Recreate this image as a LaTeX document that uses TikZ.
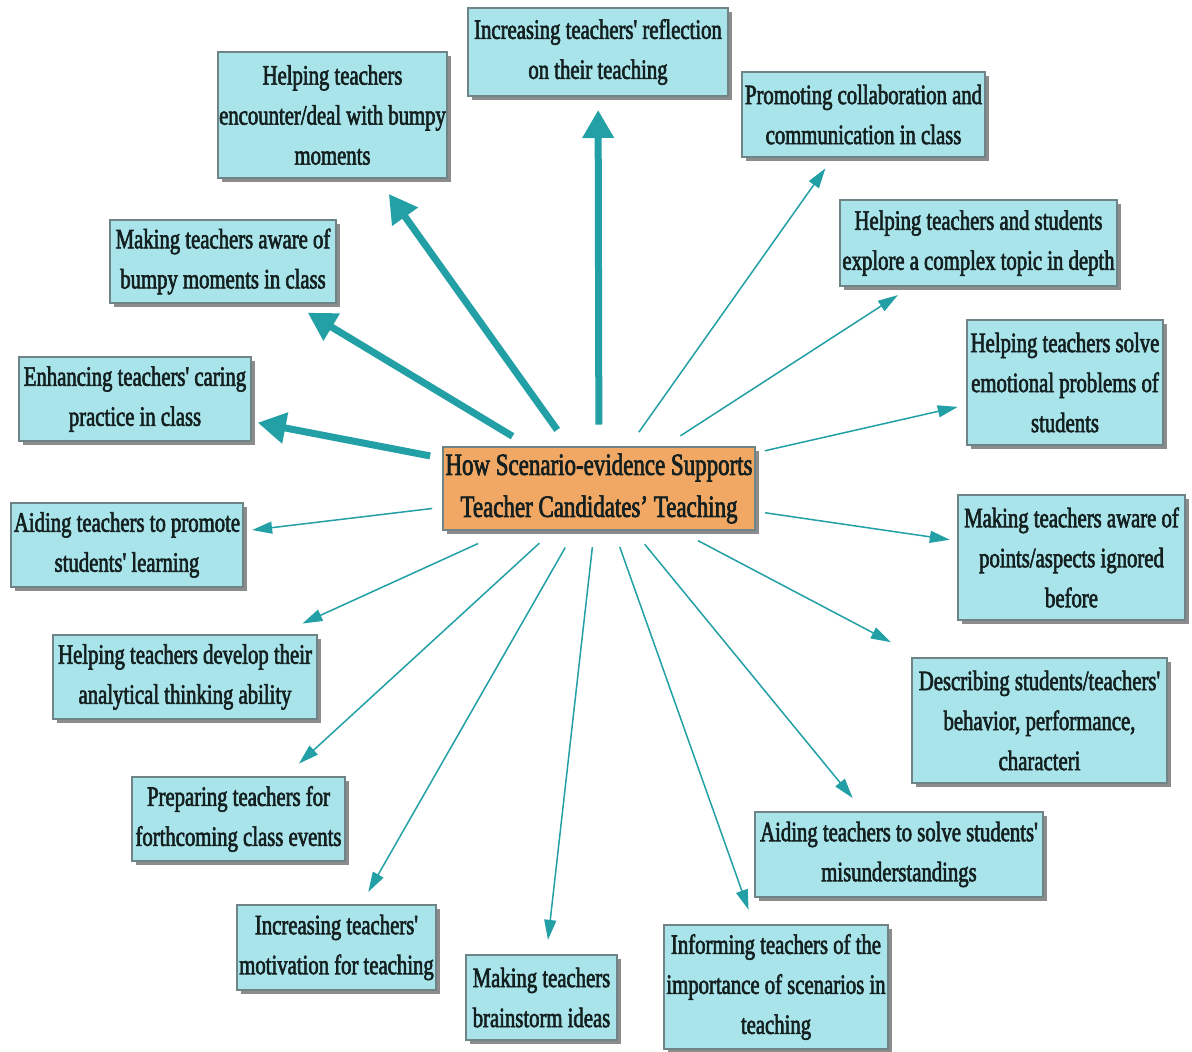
\documentclass[tikz,border=0pt]{standalone}
\usepackage{fontspec}
\setmainfont{Liberation Serif}[FakeStretch=0.74,FakeBold=2.2,Ligatures=TeXOff]
\usetikzlibrary{arrows.meta,shadows}
\definecolor{boxfill}{HTML}{A8E4EA}
\definecolor{boxline}{HTML}{6E8486}
\definecolor{ctrfill}{HTML}{F2A865}
\definecolor{arrowc}{HTML}{22A0A6}
\definecolor{txt}{HTML}{142020}
\begin{document}
\begin{tikzpicture}[x=1pt,y=-1pt,
  box/.style={draw=boxline, line width=1.2pt, fill=boxfill, inner sep=0pt, align=center, text=txt,
    font=\fontsize{28}{40}\selectfont,
    drop shadow={shadow xshift=4pt,shadow yshift=-4pt,fill=black!45,opacity=1}},
  ctr/.style={box, fill=ctrfill, font=\fontsize{31}{42}\selectfont},
  thickarrow/.style={draw=arrowc, line width=7pt, -{Triangle[length=28pt,width=30pt]}},
  thinarrow/.style={draw=arrowc, line width=1.5pt, -{Triangle[length=20pt,width=12pt]}}]
\useasboundingbox (0,0) rectangle (1192,1052);
\fill[white] (0,0) rectangle (1192,1052);

\node[ctr, minimum width=312pt, minimum height=83pt] (c) at (599,488.5) {How Scenario-evidence Supports\\Teacher Candidates’ Teaching};

\node[box, minimum width=260pt, minimum height=88pt] (b1) at (598,52) {Increasing teachers' reflection\\on their teaching};
\node[box, minimum width=229pt, minimum height=126pt] (b2) at (332.5,115) {Helping teachers\\encounter/deal with bumpy\\moments};
\node[box, minimum width=243pt, minimum height=85pt] (b3) at (863.5,114.5) {Promoting collaboration and\\communication in class};
\node[box, minimum width=226pt, minimum height=83pt] (b4) at (223,261.5) {Making teachers aware of\\bumpy moments in class};
\node[box, minimum width=277pt, minimum height=86pt] (b5) at (978.5,243) {Helping teachers and students\\explore a complex topic in depth};
\node[box, minimum width=232pt, minimum height=84pt] (b6) at (135,399) {Enhancing teachers' caring\\practice in class};
\node[box, minimum width=196pt, minimum height=125pt] (b7) at (1065,382.5) {Helping teachers solve\\emotional problems of\\students};
\node[box, minimum width=232pt, minimum height=84pt] (b9) at (127,545) {Aiding teachers to promote\\students' learning};
\node[box, minimum width=227pt, minimum height=125pt] (b10) at (1071.5,557.5) {Making teachers aware of\\points/aspects ignored\\before};
\node[box, minimum width=264pt, minimum height=84pt] (b11) at (185,677) {Helping teachers develop their\\analytical thinking ability};
\node[box, minimum width=255pt, minimum height=125pt] (b12) at (1039.5,720.5) {Describing students/teachers'\\behavior, performance,\\characteri};
\node[box, minimum width=213pt, minimum height=84pt] (b13) at (238.5,819) {Preparing teachers for\\forthcoming class events};
\node[box, minimum width=288pt, minimum height=85pt] (b14) at (899,854.5) {Aiding teachers to solve students'\\misunderstandings};
\node[box, minimum width=199pt, minimum height=85pt] (b15) at (336.5,947.5) {Increasing teachers'\\motivation for teaching};
\node[box, minimum width=151pt, minimum height=85pt] (b16) at (541.5,997.5) {Making teachers\\brainstorm ideas};
\node[box, minimum width=224pt, minimum height=124pt] (b17) at (776,987) {Informing teachers of the\\importance of scenarios in\\teaching};

\draw[thickarrow, shorten <=64pt, shorten >=58pt] (c.center) -- (b1.center);
\draw[thickarrow, shorten <=72pt, shorten >=97pt] (c.center) -- (b2.center);
\draw[thickarrow, shorten <=101pt, shorten >=99pt] (c.center) -- (b4.center);
\draw[thickarrow, shorten <=172pt, shorten >=125pt] (c.center) -- (b6.center);
\draw[thinarrow, shorten <=168pt, shorten >=126pt] (c.center) -- (b9.center);
\draw[thinarrow, shorten <=133pt, shorten >=129pt] (c.center) -- (b11.center);
\draw[thinarrow, shorten <=81pt, shorten >=82pt] (c.center) -- (b13.center);
\draw[thinarrow, shorten <=68pt, shorten >=64pt] (c.center) -- (b15.center);
\draw[thinarrow, shorten <=59pt, shorten >=58pt] (c.center) -- (b16.center);
\draw[thinarrow, shorten <=62pt, shorten >=82pt] (c.center) -- (b17.center);
\draw[thinarrow, shorten <=72pt, shorten >=73pt] (c.center) -- (b14.center);
\draw[thinarrow, shorten <=112pt, shorten >=168pt] (c.center) -- (b12.center);
\draw[thinarrow, shorten <=168pt, shorten >=123pt] (c.center) -- (b10.center);
\draw[thinarrow, shorten <=170pt, shorten >=110pt] (c.center) -- (b7.center);
\draw[thinarrow, shorten <=97pt, shorten >=96pt] (c.center) -- (b5.center);
\draw[thinarrow, shorten <=69pt, shorten >=66pt] (c.center) -- (b3.center);
\end{tikzpicture}
\end{document}
